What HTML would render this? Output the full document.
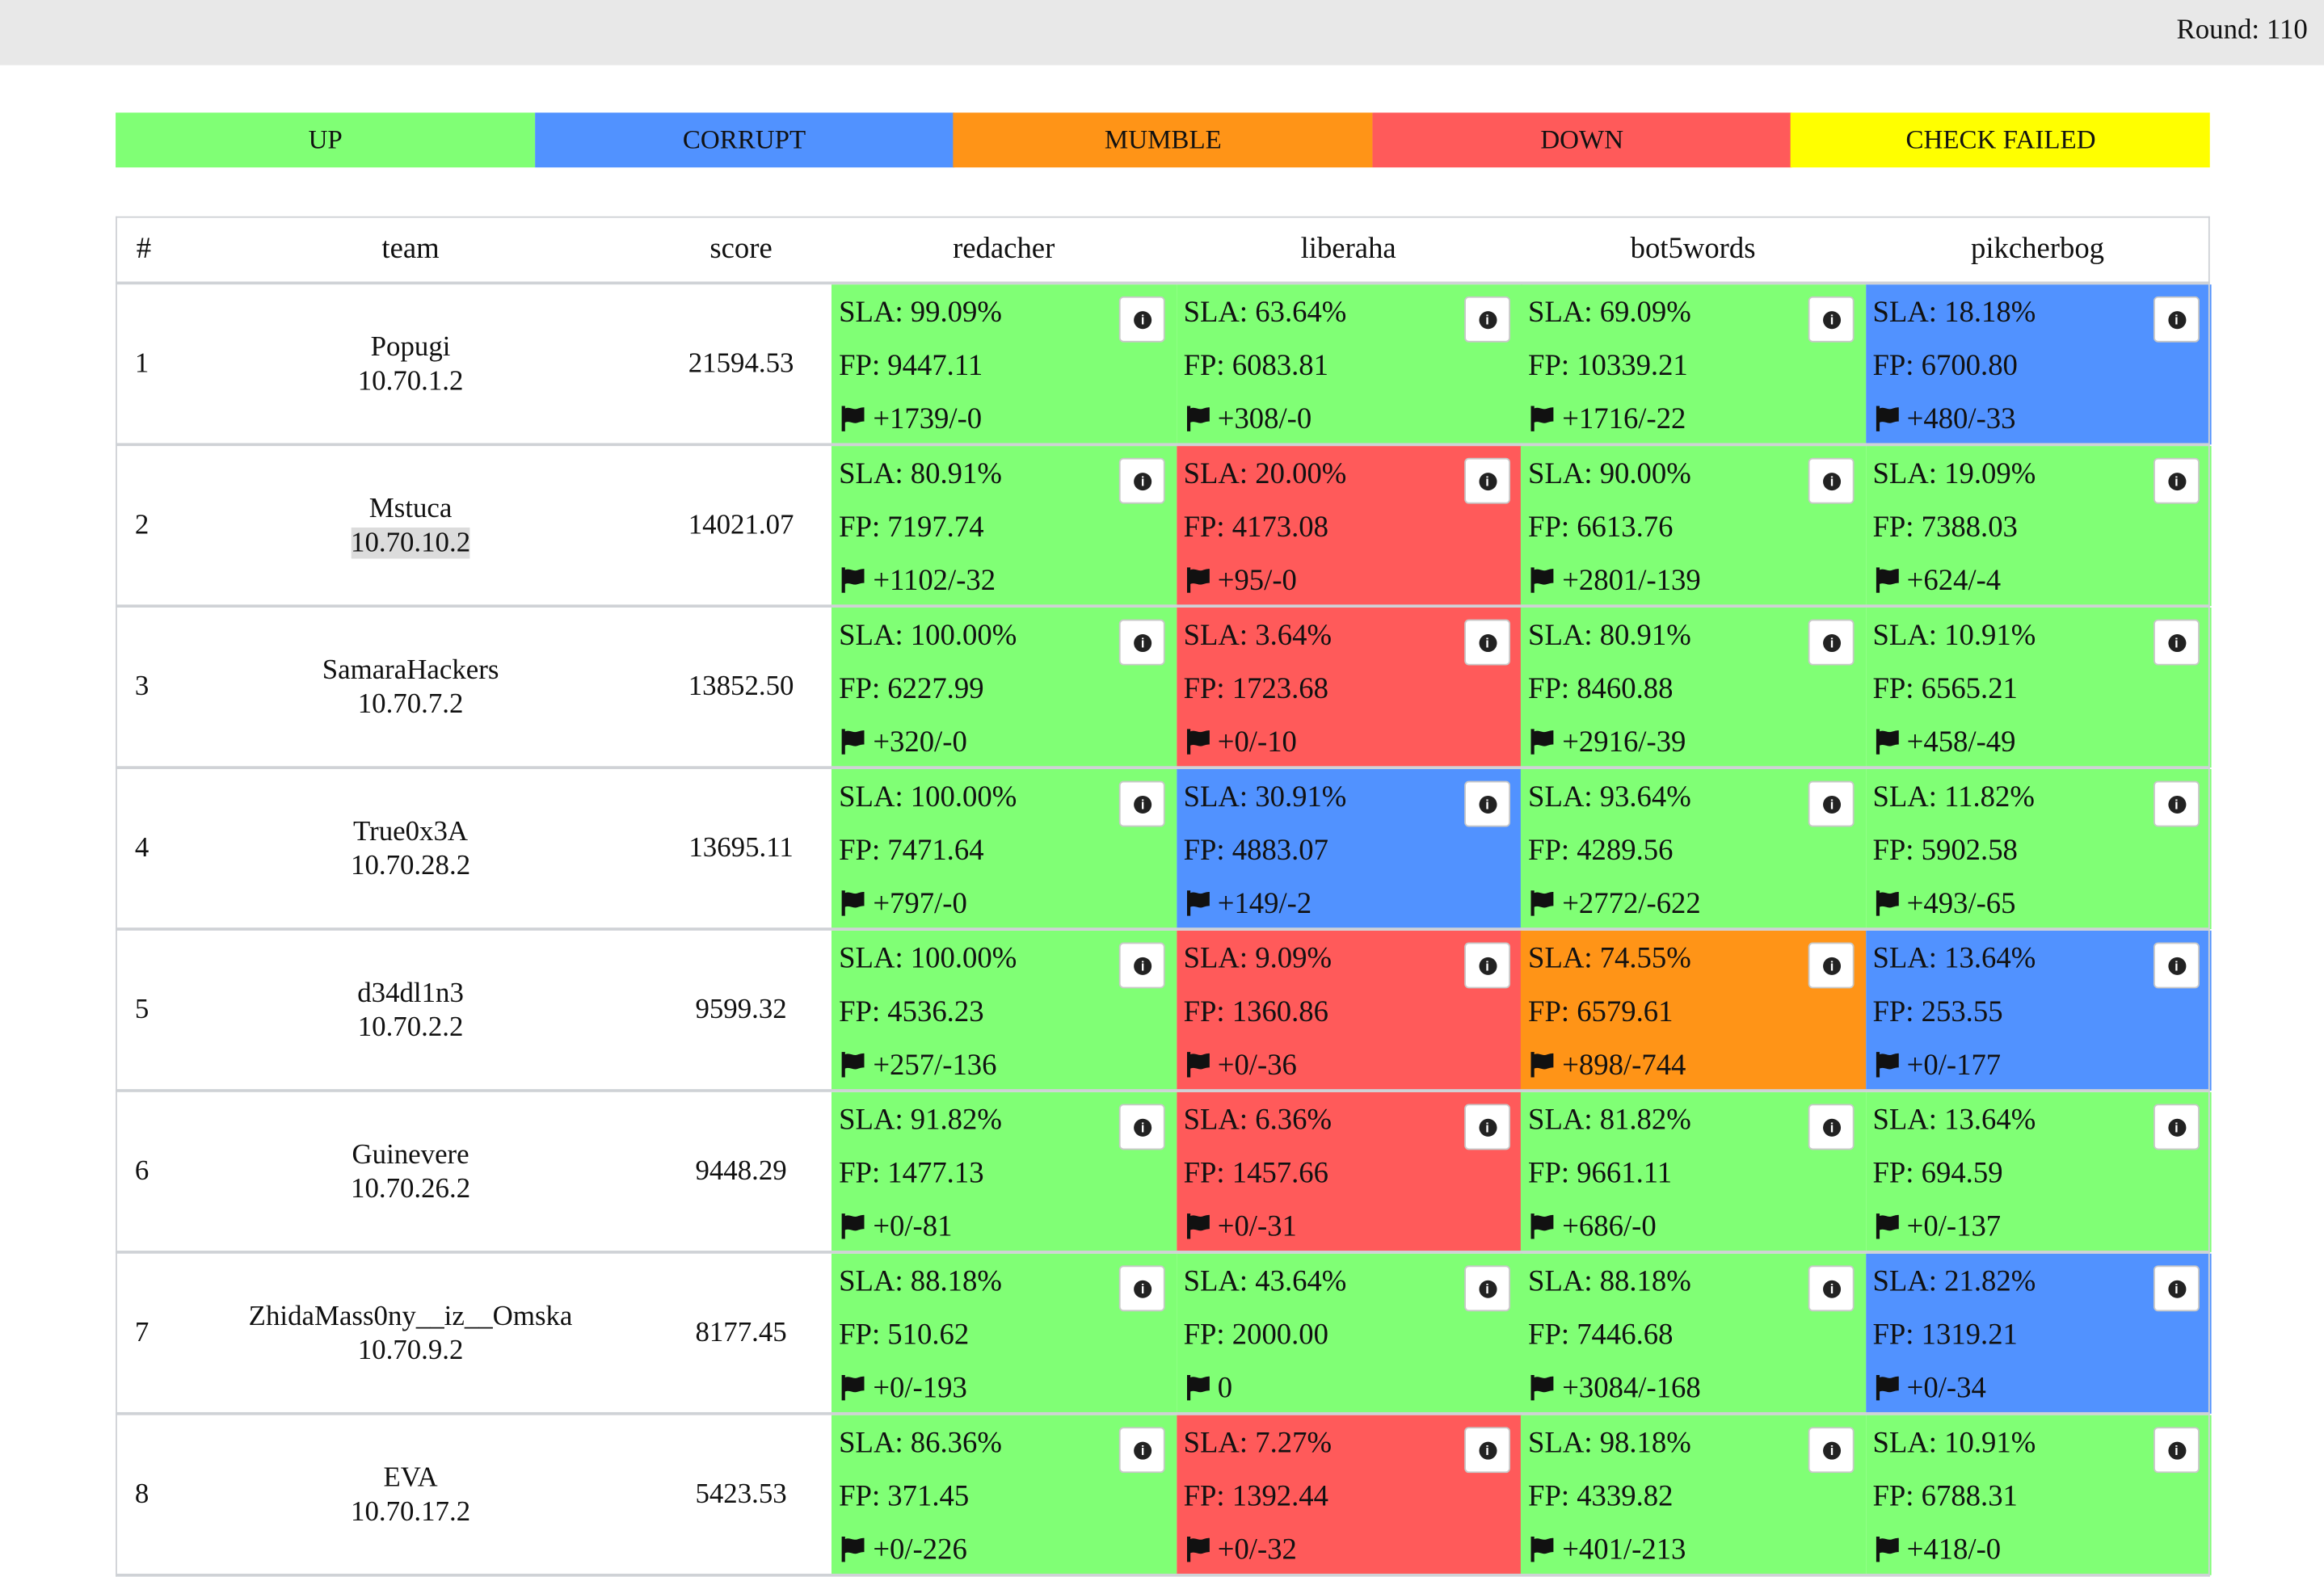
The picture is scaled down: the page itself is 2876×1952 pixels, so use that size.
<!DOCTYPE html>
<html><head><meta charset="utf-8">
<style>
html,body{margin:0;padding:0;width:2876px;height:1952px;overflow:hidden;background:#fff;}
#wrap{position:absolute;left:0;top:0;width:1568px;height:1064px;transform:scale(1.83418);transform-origin:0 0;font-family:"Liberation Serif",serif;color:#111;}
.abs{position:absolute;}
.topbar{left:0;top:0;width:1568px;height:43.5px;background:#e8e8e8;}
.round{right:11px;top:10px;font-size:19px;}
.leg{top:76px;height:37px;line-height:37px;text-align:center;font-size:18px;}
.hline{height:1.3px;background:#cfd2d6;left:78px;width:1413px;}
.vline{width:1.3px;background:#cfd2d6;top:146px;height:918px;}
.hdr{top:146px;height:45px;line-height:45px;font-size:20px;text-align:center;}
.cell{font-size:20px;}
.cell .t{position:absolute;left:5px;white-space:nowrap;}
.info{position:absolute;width:31px;height:31px;background:#fff;border:1px solid #c8c8c8;border-radius:3px;box-sizing:border-box;}
.info span{position:absolute;left:9px;top:9px;width:12px;height:12px;border-radius:50%;background:#222;color:#fff;font:bold 9px/12px "Liberation Sans",sans-serif;text-align:center;}
.sel{background:#dcdcdc;}
</style></head><body>
<div id="wrap">
<div class="abs topbar"><div class="abs round">Round: 110</div></div>
<div id="legend"></div>
<div id="table"></div>
</div>
<script>
const legendLabels=["UP","CORRUPT","MUMBLE","DOWN","CHECK FAILED"];
const legendColors=["#80ff75","#5192ff","#ff9417","#ff5a5a","#ffff00"];
const services=["redacher","liberaha","bot5words","pikcherbog"];
const teams=["Popugi","Mstuca","SamaraHackers","True0x3A","d34dl1n3","Guinevere","ZhidaMass0ny__iz__Omska","EVA"];
const ips=["10.70.1.2","10.70.10.2","10.70.7.2","10.70.28.2","10.70.2.2","10.70.26.2","10.70.9.2","10.70.17.2"];
const scores=["21594.53","14021.07","13852.50","13695.11","9599.32","9448.29","8177.45","5423.53"];
const status=[[0,0,0,1],[0,3,0,0],[0,3,0,0],[0,1,0,0],[0,3,2,1],[0,3,0,0],[0,0,0,1],[0,3,0,0]];
const sla=[["99.09","63.64","69.09","18.18"],["80.91","20.00","90.00","19.09"],["100.00","3.64","80.91","10.91"],["100.00","30.91","93.64","11.82"],["100.00","9.09","74.55","13.64"],["91.82","6.36","81.82","13.64"],["88.18","43.64","88.18","21.82"],["86.36","7.27","98.18","10.91"]];
const fp=[["9447.11","6083.81","10339.21","6700.80"],["7197.74","4173.08","6613.76","7388.03"],["6227.99","1723.68","8460.88","6565.21"],["7471.64","4883.07","4289.56","5902.58"],["4536.23","1360.86","6579.61","253.55"],["1477.13","1457.66","9661.11","694.59"],["510.62","2000.00","7446.68","1319.21"],["371.45","1392.44","4339.82","6788.31"]];
const flags=[["+1739/-0","+308/-0","+1716/-22","+480/-33"],["+1102/-32","+95/-0","+2801/-139","+624/-4"],["+320/-0","+0/-10","+2916/-39","+458/-49"],["+797/-0","+149/-2","+2772/-622","+493/-65"],["+257/-136","+0/-36","+898/-744","+0/-177"],["+0/-81","+0/-31","+686/-0","+0/-137"],["+0/-193","0","+3084/-168","+0/-34"],["+0/-226","+0/-32","+401/-213","+418/-0"]];

const L=78,R=1491,legW=(R-L)/legendLabels.length;
const leg=document.getElementById('legend');
legendLabels.forEach((lab,i)=>{
  const d=document.createElement('div');d.className='abs leg';
  d.style.left=(L+i*legW)+'px';d.style.width=(legW+0.5)+'px';d.style.background=legendColors[i];d.textContent=lab;
  
  
  leg.appendChild(d);
});
const tb=document.getElementById('table');
const svcX0=561,svcW=(R-svcX0)/services.length,rowTop0=191,rowH=109;
function add(html,cls,style,name){const d=document.createElement('div');d.className='abs '+cls;Object.assign(d.style,style);d.innerHTML=html;


tb.appendChild(d);return d;}
add('#','hdr',{left:'80px',width:'34px'},'header-rank');
add('team','hdr',{left:'177px',width:'200px'},'header-team');
add('score','hdr',{left:'440px',width:'120px'},'header-score');
services.forEach((s,j)=>add(s,'hdr',{left:(svcX0+j*svcW)+'px',width:svcW+'px'},'header-'+s));
const flagSvg='<svg width="19" height="19" viewBox="0 0 20 20" style="vertical-align:-3px;margin-right:4px"><path d="M2 1h2.4v18H2z M4 3c3-2 6 1 9 0s4-1 5-1v10c-1 0-2 0-5 1s-6-2-9 0z" fill="#111"/></svg>';
teams.forEach((t,i)=>{
  const y=rowTop0+i*rowH;
  add(String(i+1),'',{left:'91px',top:(y+44)+'px',fontSize:'19px'},'rank-'+(i+1));
  const ipHtml=(i===1)?'<span class="sel">'+ips[i]+'</span>':ips[i];
  add(t+'<br>'+ipHtml,'',{left:'127px',width:'300px',top:(y+32)+'px',fontSize:'19px',lineHeight:'23px',textAlign:'center'},'team-'+(i+1));
  add(scores[i],'',{left:'440px',width:'120px',top:(y+44)+'px',fontSize:'19px',textAlign:'center'},'score-'+(i+1));
  services.forEach((s,j)=>{
    const c=add('','cell',{left:(svcX0+j*svcW)+'px',top:(y+1)+'px',width:(svcW+0.5)+'px',height:(rowH-1)+'px',background:legendColors[status[i][j]]},'cell-'+(i+1)+'-'+s);
    c.innerHTML='<div class="t" style="top:8px">SLA: '+sla[i][j]+'%</div><div class="t" style="top:44px">FP: '+fp[i][j]+'</div><div class="t" style="top:80px">'+flagSvg+flags[i][j]+'</div>';
    const b=document.createElement('div');b.className='info';b.style.left='194px';b.style.top='8px';b.innerHTML='<span>i</span>';
    
    
    c.appendChild(b);
  });
});
for(let i=0;i<=teams.length;i++){add('','hline',{top:(rowTop0+i*rowH-0.6)+'px'},'row-divider');}
add('','hline',{top:'146px'},'table-top-border');
add('','vline',{left:'78px'},'table-left-border');
add('','vline',{left:'1490px'},'table-right-border');
</script>
</body></html>
